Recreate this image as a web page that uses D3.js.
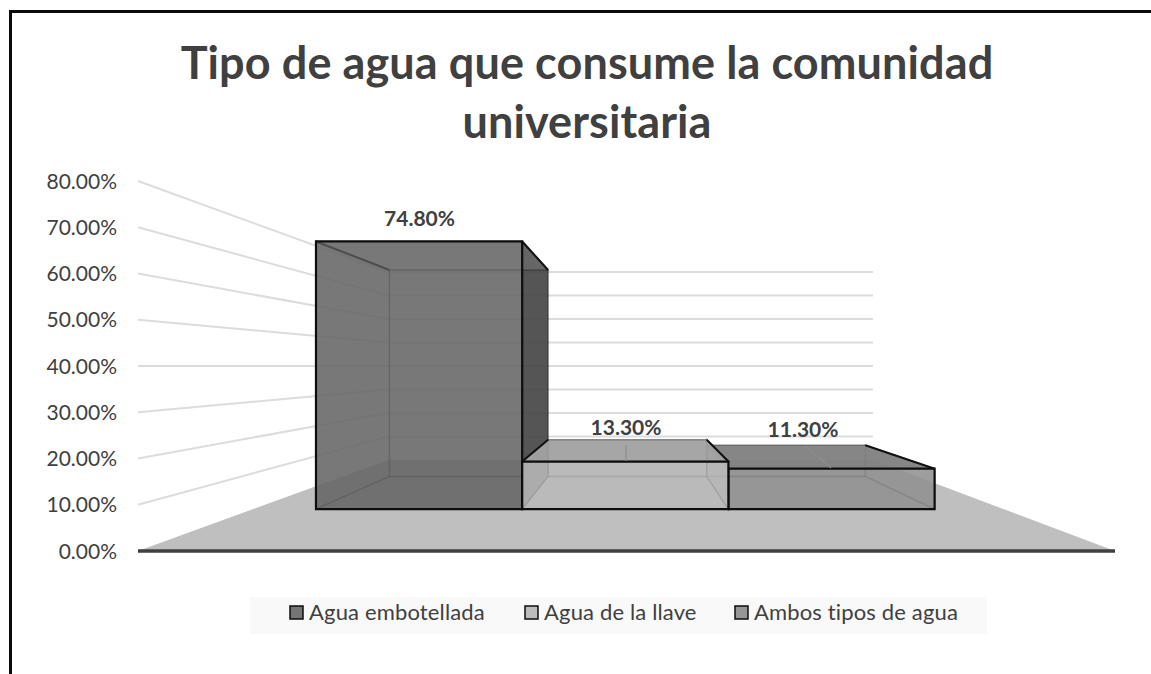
<!DOCTYPE html>
<html lang="es">
<head>
<meta charset="utf-8">
<title>Tipo de agua que consume la comunidad universitaria</title>
<script src="https://cdn.jsdelivr.net/npm/d3@7/dist/d3.min.js"></script>
<style>
  html, body { margin: 0; padding: 0; background: #fff; }
  svg { display: block; }
  text { font-family: Lato, "Open Sans", sans-serif; fill: #404040; }
</style>
</head>
<body>
<svg id="chart" width="1151" height="674"></svg>
<script>
// Chart content
const titleLines = ["Tipo de agua que consume la comunidad", "universitaria"];
const categories = ["Agua embotellada", "Agua de la llave", "Ambos tipos de agua"];
const values = [74.8, 13.3, 11.3];
const valueLabels = ["74.80%", "13.30%", "11.30%"];
const tickValues = [0, 10, 20, 30, 40, 50, 60, 70, 80];

// Greys of each series: inner and front faces, the outside side face, and the lid
const barFills = ["#656565", "#bababa", "#909090"];
const sideFills = ["#3c3c3c", "#8c8c8c", "#686868"];
const lidFills = ["#656565", "#a0a0a0", "#808080"];
const legendFills = ["#757575", "#bcbcbc", "#969696"];

const svg = d3.select("#chart");

// Perspective box of the 3-D plot: front and back planes of the floor and walls
const yFront = d3.scaleLinear().domain([0, 80]).range([551, 181]);
const yBack = d3.scaleLinear().domain([0, 80]).range([460, 272]);
const leftEdge = d3.scaleLinear().domain([0, 1]).range([138, 388]);
const rightEdge = d3.scaleLinear().domain([0, 1]).range([1115, 873]);

// Map (band position, value, depth plane) to the screen
const depthY = { front: 0.46, back: 0.82 };
const depthX = { front: 0.46, back: 0.812 };
function project(u, v, plane) {
  const x = d3.interpolateNumber(leftEdge(depthX[plane]), rightEdge(depthX[plane]))(u);
  const y = d3.interpolateNumber(yFront(v), yBack(v))(depthY[plane]);
  return [x, y];
}
const bandEdges = d3.scaleLinear().domain([0, 3]).range([0.0839, 0.908]);
const polygon = pts => pts.map(p => p.join(",")).join(" ");

// Frame: only the top and left rules of the chart area show
svg.append("rect").attr("x", 9).attr("y", 10).attr("width", 1142).attr("height", 3).attr("fill", "#0a0a0a");
svg.append("rect").attr("x", 9).attr("y", 10).attr("width", 3).attr("height", 664).attr("fill", "#0a0a0a");

// Title
svg.append("g").selectAll("text").data(titleLines).join("text")
  .attr("x", 587).attr("y", (d, i) => 79 + i * 59)
  .attr("text-anchor", "middle")
  .attr("font-size", 45).attr("font-weight", 700)
  .attr("letter-spacing", 0.1)
  .text(d => d);

// Walls: gridlines run along the side wall and then across the back wall
const grid = svg.append("g").attr("fill", "none").attr("stroke", "#dcdcdc").attr("stroke-width", 2);
tickValues.slice(1).forEach(t => {
  grid.append("polyline").attr("points", polygon([
    [leftEdge(0), yFront(t)], [leftEdge(1), yBack(t)], [rightEdge(1), yBack(t)]
  ]));
});

// Floor
svg.append("polygon")
  .attr("points", polygon([[leftEdge(0), yFront(0)], [rightEdge(0), yFront(0)], [rightEdge(1), yBack(0)], [leftEdge(1), yBack(0)]]))
  .attr("fill", "#bfbfbf");

// Value axis labels and the heavy base line
svg.append("g").selectAll("text").data(tickValues).join("text")
  .attr("x", 117).attr("y", d => yFront(d) + 7.5)
  .attr("text-anchor", "end").attr("font-size", 21)
  .text(d => d3.format(".2f")(d) + "%");
svg.append("line")
  .attr("x1", leftEdge(0)).attr("x2", rightEdge(0))
  .attr("y1", yFront(0)).attr("y2", yFront(0))
  .attr("stroke", "#404040").attr("stroke-width", 3.5);

// Glass-like boxes. The first one sits alone; the middle one is painted last
// because it hides the left wall of its right-hand neighbour.
const INNER = 0.55, FRONT = 0.72, LID = 0.9, OUTER = 0.77;
[0, 2, 1].forEach(i => {
  const v = values[i];
  const u0 = bandEdges(i), u1 = bandEdges(i + 1);
  const fb = project(u0, 0, "front"), fbr = project(u1, 0, "front");
  const ft = project(u0, v, "front"), ftr = project(u1, v, "front");
  const bb = project(u0, 0, "back"), bbr = project(u1, 0, "back");
  const bt = project(u0, v, "back"), btr = project(u1, v, "back");
  const g = svg.append("g").attr("class", "bar");
  const face = (pts, fill, op) => g.append("polygon").attr("points", polygon(pts))
    .attr("fill", fill).attr("fill-opacity", op)
    .attr("stroke", "#1a1a1a").attr("stroke-opacity", 0.28).attr("stroke-width", 1.5);
  const edge = (a, b) => g.append("line")
    .attr("x1", a[0]).attr("y1", a[1]).attr("x2", b[0]).attr("y2", b[1])
    .attr("stroke", "#111").attr("stroke-width", 2);

  face([bb, bbr, btr, bt], barFills[i], INNER);
  if (i !== 2) face([fb, bb, bt, ft], barFills[i], INNER);
  face([fb, fbr, bbr, bb], barFills[i], INNER);
  face([fbr, bbr, btr, ftr], i === 0 ? sideFills[i] : barFills[i], i === 0 ? OUTER : INNER);
  face([ft, ftr, btr, bt], lidFills[i], i === 0 ? INNER : LID);
  if (i !== 2) edge(ft, bt);
  edge(ftr, btr);

  g.append("polygon").attr("points", polygon([fb, fbr, ftr, ft]))
    .attr("fill", barFills[i]).attr("fill-opacity", FRONT)
    .attr("stroke", "#0d0d0d").attr("stroke-width", 2.2);
});

// Leader lines joining the two short boxes to their labels
const leaders = [null, [[626, 445], [626, 461]], [[806, 446], [831, 468]]];
leaders.forEach((l, i) => {
  if (l) svg.append("polyline").attr("points", polygon(l)).attr("fill", "none")
    .attr("stroke", "#8c8c8c").attr("stroke-width", 1.2);
});

// Data labels
const labelPos = [[419.5, 226], [626, 435], [803, 437]];
svg.append("g").selectAll("text").data(valueLabels).join("text")
  .attr("x", (d, i) => labelPos[i][0]).attr("y", (d, i) => labelPos[i][1])
  .attr("text-anchor", "middle").attr("font-size", 21).attr("font-weight", 700)
  .text(d => d);

// Legend
svg.append("rect").attr("x", 250).attr("y", 597).attr("width", 737).attr("height", 37).attr("fill", "#f9f9f9");
const legendX = [290, 525, 735];
const legend = svg.append("g").selectAll("g").data(categories).join("g")
  .attr("transform", (d, i) => `translate(${legendX[i]},606)`);
legend.append("rect").attr("width", 13).attr("height", 13)
  .attr("fill", (d, i) => legendFills[i]).attr("stroke", "#0d0d0d").attr("stroke-width", 1.5);
legend.append("text").attr("x", 19).attr("y", 14).attr("font-size", 22).attr("letter-spacing", 0.15).text(d => d);
</script>
</body>
</html>
